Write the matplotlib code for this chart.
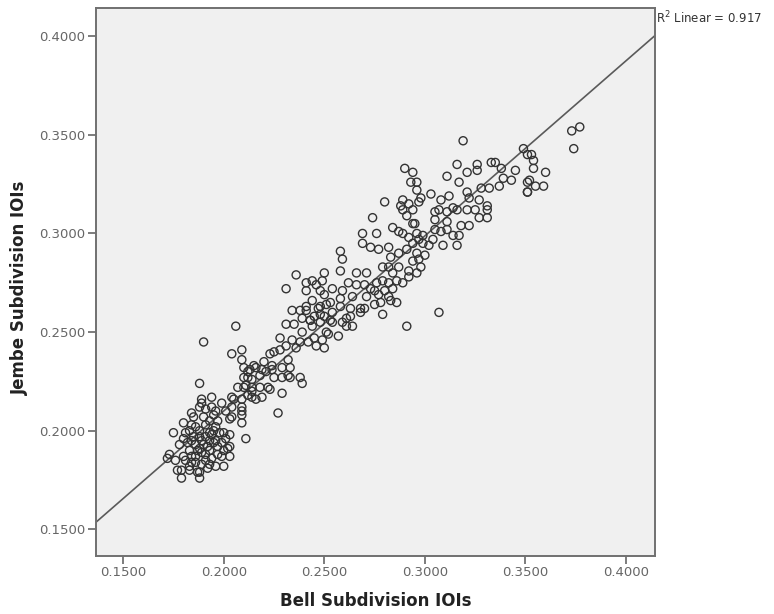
import numpy as np
import matplotlib
matplotlib.use("Agg")
import matplotlib.pyplot as plt
from matplotlib.ticker import FormatStrFormatter

# subdivision inter-onset intervals (s): bell vs jembe
bell_ioi = [
    # lower cluster
    0.194, 0.189, 0.184, 0.194, 0.199, 0.205, 0.212, 0.216, 0.209, 0.209,
    0.211, 0.203, 0.180, 0.181, 0.175, 0.178, 0.173, 0.176, 0.179, 0.179,
    0.188, 0.188, 0.184, 0.191, 0.196, 0.199, 0.202, 0.201, 0.198, 0.193,
    0.188, 0.186, 0.191, 0.196, 0.199, 0.193, 0.188, 0.183, 0.180, 0.186,
    0.192, 0.200, 0.203, 0.183, 0.184, 0.190, 0.195, 0.188, 0.172, 0.177,
    0.187, 0.203, 0.203, 0.181, 0.183, 0.193, 0.189, 0.196, 0.191, 0.188,
    0.184, 0.194, 0.193, 0.195, 0.190, 0.197, 0.192, 0.195, 0.189, 0.191,
    0.186, 0.187, 0.185, 0.182, 0.184, 0.186, 0.189, 0.194, 0.197, 0.200,
    0.200, 0.197, 0.193, 0.185, 0.183, 0.180,
    # 0.20 - 0.25
    0.206, 0.190, 0.188, 0.234, 0.238, 0.231, 0.235, 0.239, 0.228, 0.204,
    0.209, 0.209, 0.210, 0.213, 0.215, 0.220, 0.223, 0.225, 0.228, 0.231,
    0.236, 0.234, 0.238, 0.242, 0.245, 0.249, 0.250, 0.246, 0.219, 0.224,
    0.229, 0.233, 0.233, 0.238, 0.239, 0.229, 0.225, 0.229, 0.222, 0.218,
    0.214, 0.212, 0.211, 0.207, 0.214, 0.219, 0.214, 0.209, 0.209, 0.204,
    0.204, 0.191, 0.196, 0.201, 0.204, 0.209, 0.227, 0.243, 0.245, 0.244,
    0.248, 0.250, 0.247, 0.241, 0.251, 0.251, 0.212, 0.216, 0.189, 0.210,
    0.214, 0.236, 0.231, 0.232, 0.232, 0.224, 0.210, 0.218, 0.221, 0.223,
    0.252, 0.257, 0.253, 0.261, 0.261,
    # 0.24 - 0.30
    0.280, 0.288, 0.292, 0.297, 0.291, 0.295, 0.274, 0.284, 0.287, 0.269,
    0.276, 0.269, 0.273, 0.277, 0.282, 0.289, 0.292, 0.296, 0.299, 0.294,
    0.291, 0.287, 0.283, 0.296, 0.300, 0.297, 0.294, 0.292, 0.296, 0.298,
    0.258, 0.259, 0.258, 0.250, 0.266, 0.271, 0.279, 0.282, 0.284, 0.287,
    0.279, 0.276, 0.282, 0.286, 0.289, 0.292, 0.275, 0.280, 0.284, 0.262,
    0.266, 0.270, 0.273, 0.277, 0.282, 0.271, 0.264, 0.259, 0.254, 0.250,
    0.246, 0.241, 0.241, 0.244, 0.249, 0.248, 0.244, 0.253, 0.258, 0.258,
    0.263, 0.268, 0.270, 0.275, 0.278, 0.283, 0.279, 0.286, 0.291, 0.248,
    0.241, 0.243, 0.239, 0.248, 0.254, 0.263, 0.268, 0.259, 0.254, 0.264,
    0.307,
    # upper band
    0.319, 0.349, 0.351, 0.351, 0.351, 0.345, 0.343, 0.339, 0.338, 0.335,
    0.333, 0.337, 0.326, 0.326, 0.321, 0.316, 0.311, 0.317, 0.328, 0.332,
    0.321, 0.322, 0.327, 0.331, 0.331, 0.331, 0.327, 0.325, 0.321, 0.316,
    0.314, 0.312, 0.308, 0.307, 0.305, 0.305, 0.311, 0.311, 0.318, 0.322,
    0.317, 0.314, 0.311, 0.308, 0.305, 0.304, 0.302, 0.297, 0.299, 0.294,
    0.294, 0.289, 0.289, 0.298, 0.303, 0.296, 0.296, 0.293, 0.290, 0.294,
    0.309, 0.316,
    # right end
    0.377, 0.373, 0.374, 0.353, 0.354, 0.354, 0.360, 0.352, 0.355, 0.359,
    0.351,
]

jembe_ioi = [
    # lower cluster
    0.217, 0.214, 0.209, 0.212, 0.214, 0.216, 0.218, 0.216, 0.210, 0.204,
    0.196, 0.206, 0.204, 0.199, 0.199, 0.193, 0.188, 0.185, 0.180, 0.176,
    0.176, 0.179, 0.184, 0.185, 0.182, 0.187, 0.191, 0.196, 0.199, 0.195,
    0.197, 0.202, 0.203, 0.202, 0.194, 0.190, 0.191, 0.190, 0.187, 0.187,
    0.181, 0.182, 0.187, 0.180, 0.195, 0.207, 0.208, 0.212, 0.186, 0.180,
    0.179, 0.192, 0.198, 0.185, 0.182, 0.183, 0.189, 0.195, 0.197, 0.200,
    0.203, 0.198, 0.199, 0.194, 0.193, 0.192, 0.192, 0.200, 0.195, 0.188,
    0.193, 0.190, 0.197, 0.194, 0.187, 0.184, 0.183, 0.186, 0.188, 0.190,
    0.199, 0.205, 0.205, 0.207, 0.200, 0.196,
    # 0.20 - 0.25
    0.253, 0.245, 0.224, 0.261, 0.261, 0.254, 0.254, 0.250, 0.247, 0.239,
    0.241, 0.236, 0.232, 0.231, 0.233, 0.235, 0.239, 0.240, 0.241, 0.243,
    0.242, 0.246, 0.245, 0.245, 0.247, 0.246, 0.242, 0.243, 0.231, 0.231,
    0.232, 0.232, 0.227, 0.227, 0.224, 0.227, 0.227, 0.219, 0.222, 0.222,
    0.226, 0.227, 0.223, 0.222, 0.222, 0.217, 0.217, 0.216, 0.212, 0.217,
    0.212, 0.211, 0.210, 0.210, 0.207, 0.208, 0.209, 0.256, 0.258, 0.253,
    0.255, 0.258, 0.262, 0.263, 0.264, 0.250, 0.230, 0.232, 0.216, 0.222,
    0.220, 0.279, 0.272, 0.236, 0.228, 0.233, 0.227, 0.228, 0.230, 0.221,
    0.249, 0.248, 0.256, 0.257, 0.253,
    # 0.24 - 0.30
    0.316, 0.314, 0.315, 0.316, 0.309, 0.305, 0.308, 0.303, 0.301, 0.300,
    0.300, 0.295, 0.293, 0.292, 0.293, 0.300, 0.298, 0.300, 0.295, 0.295,
    0.292, 0.290, 0.288, 0.290, 0.289, 0.287, 0.286, 0.281, 0.280, 0.283,
    0.291, 0.287, 0.281, 0.280, 0.280, 0.280, 0.283, 0.283, 0.280, 0.283,
    0.276, 0.275, 0.275, 0.276, 0.275, 0.278, 0.271, 0.271, 0.272, 0.275,
    0.274, 0.274, 0.272, 0.269, 0.268, 0.268, 0.268, 0.271, 0.272, 0.269,
    0.274, 0.271, 0.275, 0.276, 0.276, 0.271, 0.266, 0.265, 0.267, 0.263,
    0.262, 0.262, 0.262, 0.264, 0.265, 0.266, 0.259, 0.265, 0.253, 0.263,
    0.261, 0.256, 0.257, 0.259, 0.260, 0.258, 0.260, 0.255, 0.255, 0.253,
    0.260,
    # upper band
    0.347, 0.343, 0.340, 0.326, 0.321, 0.332, 0.327, 0.328, 0.333, 0.336,
    0.336, 0.324, 0.335, 0.332, 0.331, 0.335, 0.329, 0.326, 0.323, 0.323,
    0.321, 0.318, 0.317, 0.314, 0.312, 0.308, 0.308, 0.312, 0.312, 0.312,
    0.313, 0.319, 0.317, 0.312, 0.311, 0.307, 0.311, 0.306, 0.304, 0.304,
    0.299, 0.299, 0.302, 0.301, 0.302, 0.297, 0.294, 0.297, 0.299, 0.305,
    0.312, 0.312, 0.317, 0.318, 0.320, 0.322, 0.326, 0.326, 0.333, 0.331,
    0.294, 0.294,
    # right end
    0.354, 0.352, 0.343, 0.340, 0.337, 0.333, 0.331, 0.327, 0.324, 0.324,
    0.321,
]

r2_label = r"R$^2$ Linear = 0.917"
tick_values = [0.15, 0.20, 0.25, 0.30, 0.35, 0.40]

bell = np.array(bell_ioi)
jembe = np.array(jembe_ioi)

fig = plt.figure(figsize=(7.74, 6.14), dpi=100)
ax = fig.add_axes([96 / 774, 1 - 556 / 614, 559 / 774, 548 / 614])
ax.set_facecolor("#f0f0f0")

ax.scatter(bell, jembe, s=34, facecolors="none", edgecolors="#333333",
           linewidths=1.0, zorder=3)

ax.set_xlim(0.1365, 0.4144)
ax.set_ylim(0.1365, 0.4143)

# least-squares fit line across the whole frame
slope, intercept = np.polyfit(bell, jembe, 1)
xs = np.array(ax.get_xlim())
ax.plot(xs, intercept + slope * xs, color="#5a5a5a", lw=1.2, zorder=2)

ax.text(1.0015, 0.982, r2_label, transform=ax.transAxes, ha="left",
        va="center", fontsize=8.5, color="#333333", clip_on=False)

ax.set_xticks(tick_values)
ax.set_yticks(tick_values)
ax.xaxis.set_major_formatter(FormatStrFormatter("%.4f"))
ax.yaxis.set_major_formatter(FormatStrFormatter("%.4f"))
ax.tick_params(direction="out", length=6, width=1.2, color="#666666",
               labelcolor="#666666", labelsize=9.5, pad=1.5)

for sp in ax.spines.values():
    sp.set_color("#707070")
    sp.set_linewidth(1.4)

ax.set_xlabel("Bell Subdivision IOIs", fontsize=12, fontweight="bold",
              color="#222222")
ax.set_ylabel("Jembe Subdivision IOIs", fontsize=12, fontweight="bold",
              color="#222222")
ax.xaxis.set_label_coords(0.5, -0.066)
ax.yaxis.set_label_coords(-0.12, 0.49)

fig.savefig("out.png", dpi=100)
